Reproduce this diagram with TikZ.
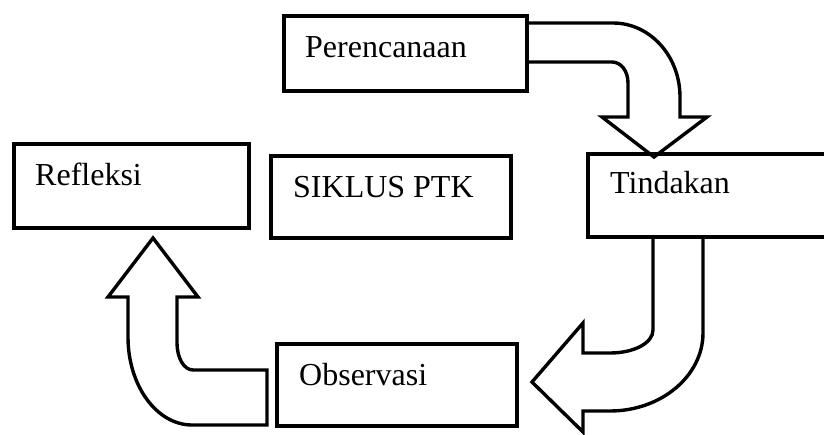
\documentclass[tikz,border=0pt]{standalone}
\usepackage{fontspec}
\setmainfont{Liberation Serif}
\begin{document}
\begin{tikzpicture}[x=1pt,y=-1pt,
  box/.style={draw=black,line width=4pt,rectangle,outer sep=0pt,inner sep=0pt,anchor=north west},
  lbl/.style={anchor=base west,inner sep=0pt,font=\fontsize{32}{38}\selectfont},
  blockarrow/.style={draw=black,fill=white,line width=3.4pt,line join=miter}]
\useasboundingbox (0,0) rectangle (824,434);
\clip (0,0) rectangle (824,434);
% block arrows
\draw[blockarrow] (527,23) -- (613,23) .. controls (650,23) and (680,56) .. (680,97) -- (680,117) -- (707,117) -- (654,157) -- (602,117) -- (628,117) -- (628,83) .. controls (628,71) and (621,62) .. (612,62) -- (527,62) -- cycle;
\draw[blockarrow] (653,237) -- (653,330) .. controls (653,343) and (634,353) .. (610,353) -- (583,353) -- (583,323) -- (532,382) -- (583,432) -- (583,411) -- (610,411) .. controls (661,411) and (703,376) .. (703,333) -- (703,237) -- cycle;
\draw[blockarrow] (267,370) -- (193,370) .. controls (184,370) and (177,358) .. (177,343) -- (177,297) -- (198,297) -- (153,238) -- (108,297) -- (128,297) -- (128,337) .. controls (128,386) and (157,425) .. (192,425) -- (267,425) -- cycle;
% boxes
\node[box,minimum width=243pt,minimum height=75pt] (per) at (284,16) {};
\node[box,minimum width=235pt,minimum height=84pt] (ref) at (14,144) {};
\node[box,minimum width=240pt,minimum height=82pt] (sik) at (271,156) {};
\node[box,minimum width=242pt,minimum height=83pt] (tin) at (588,154) {};
\node[box,minimum width=240pt,minimum height=82pt] (obs) at (277,344) {};
% labels
\node[lbl] (tper) at (305,57) {Perencanaan};
\node[lbl] (tref) at (35,185) {Refleksi};
\node[lbl] (tsik) at (293,197) {SIKLUS PTK};
\node[lbl] (ttin) at (610,193) {Tindakan};
\node[lbl] (tobs) at (299,385) {Observasi};
\end{tikzpicture}
\end{document}
